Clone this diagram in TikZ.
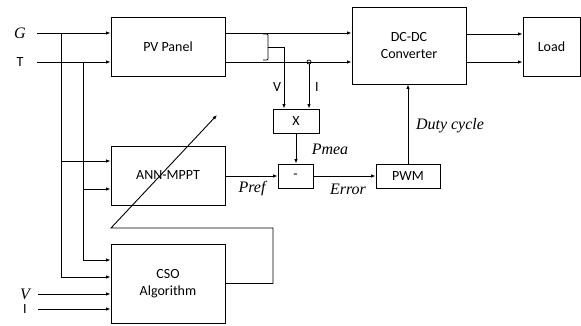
\documentclass[tikz,border=0pt]{standalone}
\usepackage{fontspec}
\setmainfont{Carlito}
\newfontfamily\lblserif{Liberation Serif}
\usetikzlibrary{arrows.meta}

\tikzset{
  blk/.style={draw,line width=0.9pt,minimum width=114pt,minimum height=59pt,align=center,inner sep=0pt},
  smallblk/.style={blk,minimum width=46pt,minimum height=24pt},
  sig/.style={line width=0.9pt,-{Latex[length=4.5pt,width=3.5pt]}},
  wire/.style={line width=0.9pt},
  lbl/.style={font=\fontsize{16}{18}\selectfont\lblserif\itshape}
}

\begin{document}
\begin{tikzpicture}[x=1pt,y=-1pt,every node/.style={font=\fontsize{14}{17.5}\selectfont}]
  \useasboundingbox (0,0) rectangle (581,325);
  \node[blk] (pv) at (168,46.5){PV Panel};
  \node[blk,minimum height=77pt] (conv) at (409,45.5){DC-DC\\Converter};
  \node[blk,minimum width=57pt] (load) at (551.5,46.5){Load};
  \node[blk] (ann) at (168,175.5){ANN-MPPT};
  \node[blk,minimum height=79pt] (cso) at (168,283.5){CSO\\Algorithm};
  \node[smallblk] (mult) at (296,121){X};
  \node[smallblk,minimum width=35pt] (sub) at (295.5,176){-};
  \node[smallblk,minimum width=64pt] (pwm) at (408,176){PWM};
  \node[lbl] (glbl) at (20,33){G}; \node (tlbl) at (20,62){T};
  \node[lbl] (vlbl) at (25,294){V}; \node (ilbl) at (25,309){I};
  \coordinate (gs) at (37,33); \coordinate (ts) at (37,62);
  \coordinate (vs) at (38,294); \coordinate (is) at (38,309);
  \coordinate (gb) at (61,33); \coordinate (tb) at (83,62);
  \draw[sig] (gs) -- (gs -| pv.west);
  \draw[sig] (ts) -- (ts -| pv.west);
  \draw[sig] (gs -| pv.east) -- (gs -| conv.west);
  \draw[sig] (ts -| pv.east) -- (ts -| conv.west);
  \draw[sig] ([yshift=11.5pt]conv.east) -- ([yshift=11.5pt]conv.east -| load.west);
  \draw[sig] (ts -| conv.east) -- (ts -| load.west);
  \draw[sig] (gb) |- ([yshift=6.5pt]cso.west);
  \draw[sig] (tb) |- ([yshift=23.5pt]cso.west);
  \draw[sig] ([yshift=14.5pt]ann.west -| gb) -- ([yshift=14.5pt]ann.west);
  \draw[sig] ([yshift=-13.5pt]ann.west -| tb) -- ([yshift=-13.5pt]ann.west);
  \draw[sig] (vs) -- (vs -| cso.west);
  \draw[sig] (is) -- (is -| cso.west);
  \coordinate (br) at (268,47);
  \draw[wire,rounded corners=1pt] (263,34) -| (br) |- (263,60);
  \draw[sig] (br) -| ([xshift=-12pt]mult.north);
  \node[circle,draw,line width=0.7pt,inner sep=0pt,minimum size=4pt] (isense) at (309,62){};
  \draw[sig] (isense) -- (isense |- mult.north);
  \node (vtxt) at (277,87){V}; \node (itxt) at (317,87){I};
  \draw[sig] (mult.south) -- (mult.south |- sub.north);
  \draw[sig] (ann.east |- sub) -- (sub.west);
  \draw[sig] (sub.east) -- (pwm.west);
  \draw[sig] (pwm.north) -- (pwm.north |- conv.south);
  \node[lbl] (pmea) at (330,149){Pmea};
  \node[lbl] (pref) at (252,189){Pref};
  \node[lbl] (err) at (348,189){Error};
  \node[lbl] (duty) at (450,126){Duty cycle};
  \coordinate (fbr) at (273,228); \coordinate (fbl) at (111,228); \coordinate (tip) at (217,115);
  \draw[sig] (cso.east) -| (fbr) -- (fbl) -- (tip);
\end{tikzpicture}
\end{document}
